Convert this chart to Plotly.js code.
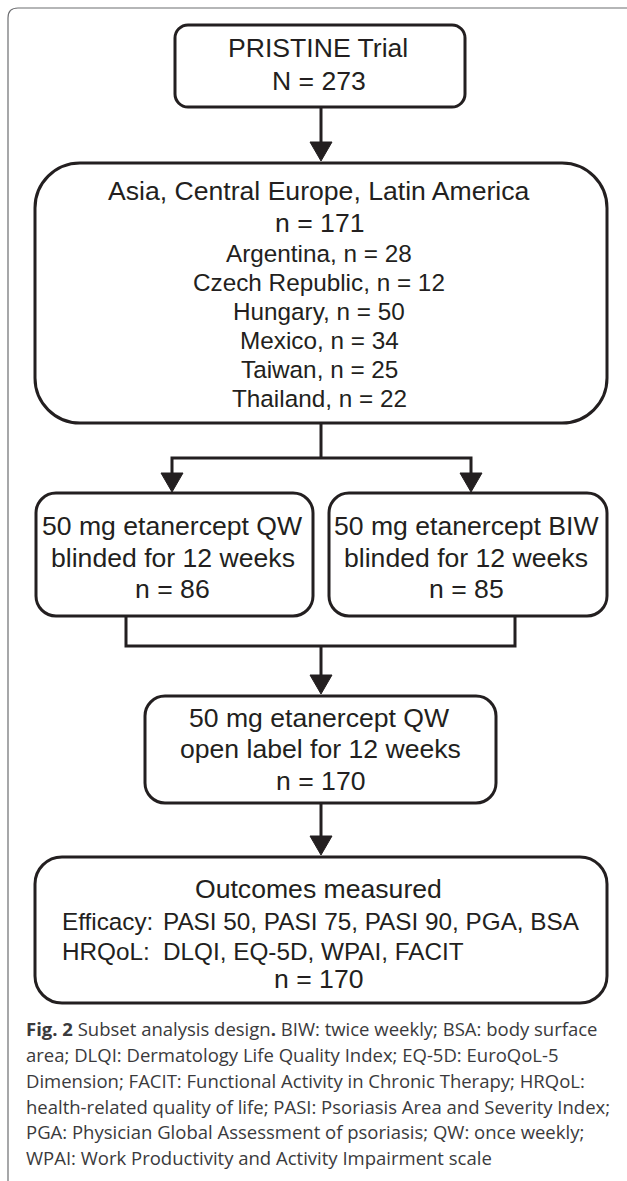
<!DOCTYPE html>
<html>
<head>
<meta charset="utf-8">
<script src="https://cdn.plot.ly/plotly-3.0.1.min.js"></script>
<style>html,body{margin:0;padding:0;background:#fff;}#chart{width:627px;height:1181px;}</style>
</head>
<body>
<div id="chart"></div>
<script>
// ---- content (data) ----
const trialLines = ["PRISTINE Trial", "N = 273"];
const regionLines = ["Asia, Central Europe, Latin America", "n = 171"];
const countries = ["Argentina", "Czech Republic", "Hungary", "Mexico", "Taiwan", "Thailand"];
const countryN = [28, 12, 50, 34, 25, 22];
const armDrug = ["50 mg etanercept QW", "50 mg etanercept BIW"];
const armPhase = ["blinded for 12 weeks", "blinded for 12 weeks"];
const armN = [86, 85];
const openLines = ["50 mg etanercept QW", "open label for 12 weeks"];
const openN = 170;
const outcomeTitle = "Outcomes measured";
const outcomeCats = ["Efficacy:", "HRQoL:"];
const outcomeItems = ["PASI 50, PASI 75, PASI 90, PGA, BSA", "DLQI, EQ-5D, WPAI, FACIT"];
const outcomeN = 170;
const captionLines = [
  "<b>Fig. 2</b> Subset analysis design<b>.</b> BIW: twice weekly; BSA: body surface",
  "area; DLQI: Dermatology Life Quality Index; EQ-5D: EuroQoL-5",
  "Dimension; FACIT: Functional Activity in Chronic Therapy; HRQoL:",
  "health-related quality of life; PASI: Psoriasis Area and Severity Index;",
  "PGA: Physician Global Assessment of psoriasis; QW: once weekly;",
  "WPAI: Work Productivity and Activity Impairment scale"
];

// ---- layout geometry (pixel space of the figure) ----
const W = 627, H = 1181;
const BOX = {
  trial:   {x0: 175, y0: 25,  x1: 465, y1: 107, r: 13},
  region:  {x0: 35,  y0: 163, x1: 607, y1: 423, r: 45},
  armL:    {x0: 36,  y0: 493, x1: 313, y1: 616, r: 20},
  armR:    {x0: 329, y0: 493, x1: 607, y1: 616, r: 20},
  open:    {x0: 145, y0: 696, x1: 496, y1: 803, r: 20},
  outcome: {x0: 35,  y0: 857, x1: 607, y1: 1003, r: 27}
};
const INK = "#231f20";
const BIG = 26.6, SMALL = 24.3;
const FONT = "Liberation Sans, Arial, Helvetica, sans-serif";
const CAP = 18.5;

function roundRect(b) {
  const k = 0.5523 * b.r, r = b.r;
  return `M ${b.x0 + r} ${b.y0} L ${b.x1 - r} ${b.y0} ` +
    `C ${b.x1 - r + k} ${b.y0} ${b.x1} ${b.y0 + r - k} ${b.x1} ${b.y0 + r} ` +
    `L ${b.x1} ${b.y1 - r} C ${b.x1} ${b.y1 - r + k} ${b.x1 - r + k} ${b.y1} ${b.x1 - r} ${b.y1} ` +
    `L ${b.x0 + r} ${b.y1} C ${b.x0 + r - k} ${b.y1} ${b.x0} ${b.y1 - r + k} ${b.x0} ${b.y1 - r} ` +
    `L ${b.x0} ${b.y0 + r} C ${b.x0} ${b.y0 + r - k} ${b.x0 + r - k} ${b.y0} ${b.x0 + r} ${b.y0} Z`;
}

const shapes = [];
// outer frame (open to the right and bottom)
shapes.push({type: "path", xref: "x", yref: "y",
  path: `M 8 ${H + 20} L 8 18 Q 8 8 18 8 L ${W + 20} 8`,
  line: {color: "#6d6e71", width: 1.2}});

Object.values(BOX).forEach(b => shapes.push({type: "path", xref: "x", yref: "y",
  path: roundRect(b), line: {color: INK, width: 3}, fillcolor: "rgba(0,0,0,0)"}));

function line(pts) {
  shapes.push({type: "path", xref: "x", yref: "y",
    path: "M " + pts.map(p => p.join(" ")).join(" L "), line: {color: INK, width: 3}});
}
function head(x, yTip) {
  const w = 11, h = 19;
  shapes.push({type: "path", xref: "x", yref: "y",
    path: `M ${x - w} ${yTip - h} L ${x + w} ${yTip - h} L ${x} ${yTip} Z`,
    fillcolor: INK, line: {color: INK, width: 1}});
}
const cx = 321;
// trial -> region
line([[cx, BOX.trial.y1], [cx, BOX.region.y0 - 10]]); head(cx, BOX.region.y0 - 2);
// region -> arms
const forkY = 458, armLx = 172, armRx = 471;
line([[cx, BOX.region.y1], [cx, forkY]]);
line([[armLx, BOX.armL.y0 - 10], [armLx, forkY], [armRx, forkY], [armRx, BOX.armR.y0 - 10]]);
head(armLx, BOX.armL.y0 - 1); head(armRx, BOX.armR.y0 - 1);
// arms -> open
const joinY = 646;
line([[126, BOX.armL.y1], [126, joinY], [515, joinY], [515, BOX.armR.y1]]);
line([[cx, joinY], [cx, BOX.open.y0 - 10]]); head(cx, BOX.open.y0 - 2);
// open -> outcome
line([[cx, BOX.open.y1], [cx, BOX.outcome.y0 - 10]]); head(cx, BOX.outcome.y0 - 2);

const ann = [];
function txt(t, x, baseline, size, anchor, extra) {
  ann.push(Object.assign({text: t, x: x, y: baseline - 0.35 * size, xref: "x", yref: "y",
    xanchor: anchor || "center", yanchor: "middle", showarrow: false,
    font: {family: FONT, size: size, color: INK}}, extra || {}));
}
// trial
txt(trialLines[0], 318, 57, BIG); txt(trialLines[1], 319, 90, BIG);
// region
txt(regionLines[0], 318, 200, BIG); txt(regionLines[1], 319, 232, BIG);
const cBase = [262, 291, 320, 349, 378, 407];
countries.forEach((c, i) => txt(`${c}, n = ${countryN[i]}`, 319, cBase[i], SMALL));
// arms
[[BOX.armL, 0], [BOX.armR, 1]].forEach(([b, i]) => {
  const mx = (b.x0 + b.x1) / 2 - 2;
  txt(armDrug[i], mx, 535, BIG);
  txt(armPhase[i], mx, 567, BIG);
  txt(`n = ${armN[i]}`, mx, 598, BIG);
});
// open label
txt(openLines[0], 319, 727, BIG); txt(openLines[1], 320, 758, BIG); txt(`n = ${openN}`, 320, 790, BIG);
// outcomes
txt(outcomeTitle, 318, 898, BIG);
txt(outcomeCats[0], 60, 930, SMALL, "left"); txt(outcomeItems[0], 161, 930, SMALL, "left");
txt(outcomeCats[1], 60, 960, SMALL, "left"); txt(outcomeItems[1], 161, 960, SMALL, "left");
txt(`n = ${outcomeN}`, 318, 988, BIG);
// caption
const capBase = [1035, 1061, 1087, 1113, 1138, 1164];
captionLines.forEach((c, i) => ann.push({text: c, x: 24, y: capBase[i] - 0.36 * CAP, xref: "x", yref: "y",
  xanchor: "left", yanchor: "middle", showarrow: false,
  font: {family: "Open Sans, Noto Sans, sans-serif", size: CAP, color: "#3a3a3c"}}));

const layout = {
  width: W, height: H, margin: {l: 0, r: 0, t: 0, b: 0},
  paper_bgcolor: "#fff", plot_bgcolor: "#fff", showlegend: false,
  xaxis: {range: [0, W], visible: false, fixedrange: true},
  yaxis: {range: [H, 0], visible: false, fixedrange: true},
  shapes: shapes, annotations: ann
};
Plotly.newPlot("chart", [{x: [], y: [], type: "scatter"}], layout, {staticPlot: true, displayModeBar: false});
</script>
</body>
</html>
